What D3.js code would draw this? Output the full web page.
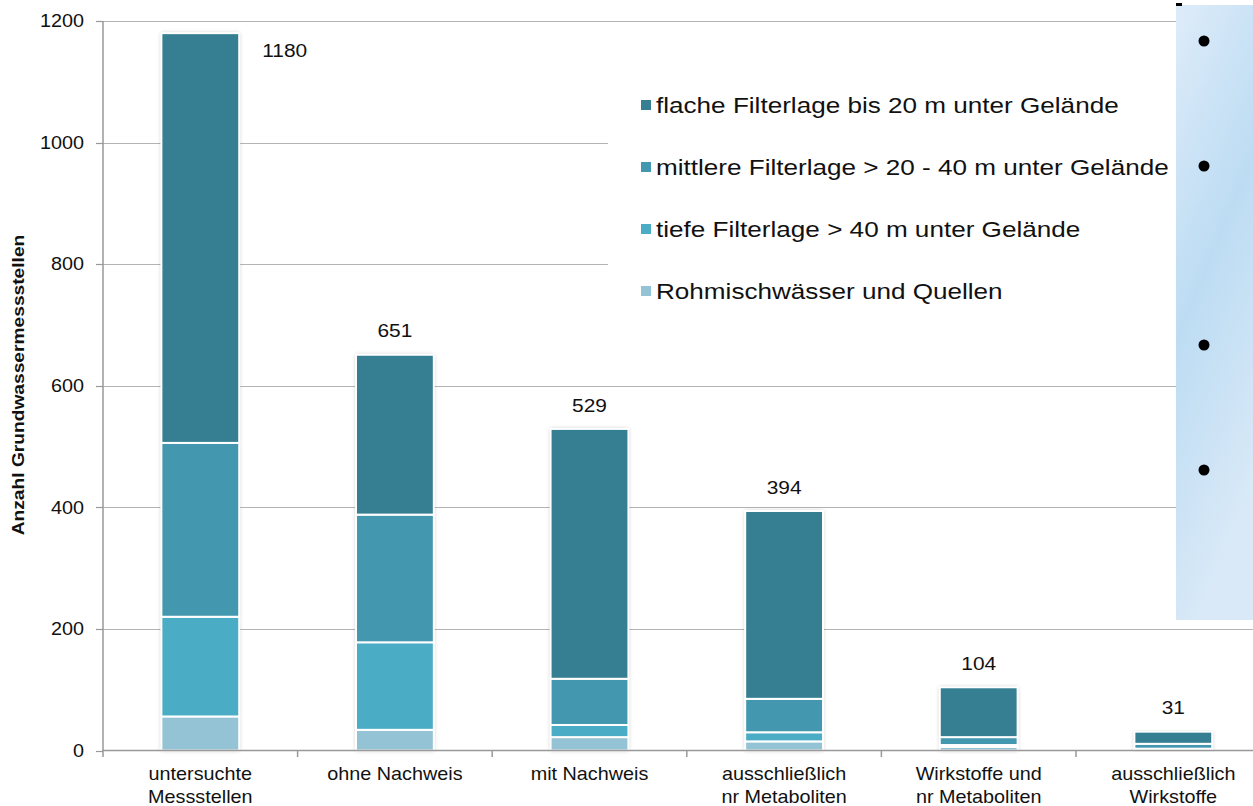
<!DOCTYPE html>
<html>
<head>
<meta charset="utf-8">
<script src="https://cdn.jsdelivr.net/npm/d3@7"></script>
<style>
  body { margin: 0; background: #fff; }
  svg { display: block; font-family: "Liberation Sans", Arial, sans-serif; }
</style>
</head>
<body>
<div id="chart"></div>
<script>
// categories (x labels, two lines each)
var categories = [
  ["untersuchte", "Messstellen"],
  ["ohne Nachweis"],
  ["mit Nachweis"],
  ["ausschließlich", "nr Metaboliten"],
  ["Wirkstoffe und", "nr Metaboliten"],
  ["ausschließlich", "Wirkstoffe"]
]
var seriesNames = [
  "Rohmischwässer und Quellen",
  "tiefe Filterlage > 40 m unter Gelände",
  "mittlere Filterlage > 20 - 40 m unter Gelände",
  "flache Filterlage bis 20 m unter Gelände"
]
// values, one array per series
var rohm     = [56, 34, 22, 15, 6, 1]
var tiefe    = [164, 144, 20, 15, 3, 2]
var mittlere = [286, 210, 76, 55, 13, 8]
var flach    = [674, 263, 411, 309, 82, 20]
var totals   = [1180, 651, 529, 394, 104, 31]
var yTicks   = [0, 200, 400, 600, 800, 1000, 1200]

var colors = ["#93c3d4", "#4bacc6", "#4397ae", "#367f93"]

var width = 1253, height = 806
var x0 = 103, bandW = 194.6
var stretch = 1.1   // the original text is a bit wider than the font

var svg = d3.select("#chart").append("svg")
  .attr("width", width).attr("height", height)

var defs = svg.append("defs")
var glow = defs.append("filter").attr("id", "glow")
  .attr("x", "-20%").attr("y", "-5%").attr("width", "140%").attr("height", "110%")
glow.append("feGaussianBlur").attr("in", "SourceAlpha").attr("stdDeviation", 2.2).attr("result", "b")
glow.append("feFlood").attr("flood-color", "#000").attr("flood-opacity", 0.25)
glow.append("feComposite").attr("in2", "b").attr("operator", "in").attr("result", "s")
var mg = glow.append("feMerge")
mg.append("feMergeNode").attr("in", "s")
mg.append("feMergeNode").attr("in", "SourceGraphic")

var grad = defs.append("linearGradient").attr("id", "panel")
  .attr("x1", "0").attr("y1", "0").attr("x2", "0.3").attr("y2", "1")
grad.append("stop").attr("offset", "0%").attr("stop-color", "#deecf9")
grad.append("stop").attr("offset", "50%").attr("stop-color", "#bddcf3")
grad.append("stop").attr("offset", "100%").attr("stop-color", "#d9e9f7")

var x = d3.scaleBand()
  .domain(d3.range(categories.length))
  .range([x0, x0 + bandW * categories.length])
  .paddingInner(0.6).paddingOuter(0.3)

var y = d3.scaleLinear().domain([0, 1200]).range([750.5, 21])

function place(px, py, s) {
  return "translate(" + px + "," + py + ") scale(" + (s || stretch) + ",1)"
}

// gridlines
svg.append("g").selectAll("line")
  .data(yTicks.slice(1))
  .enter().append("line")
  .attr("x1", x0).attr("x2", width)
  .attr("y1", function(d){ return Math.round(y(d)) + 0.5 })
  .attr("y2", function(d){ return Math.round(y(d)) + 0.5 })
  .attr("stroke", "#b3b3b3").attr("stroke-width", 1.2)

// stacked data
var table = categories.map(function(c, i) {
  return { i: i, rohm: rohm[i], tiefe: tiefe[i], mittlere: mittlere[i], flach: flach[i] }
})
var keys = ["rohm", "tiefe", "mittlere", "flach"]
var stacked = d3.stack().keys(keys)(table)

// bar glow backing
svg.append("g").selectAll("rect")
  .data(table)
  .enter().append("rect")
  .attr("x", function(d){ return x(d.i) })
  .attr("width", x.bandwidth())
  .attr("y", function(d, i){ return y(totals[i]) })
  .attr("height", function(d, i){ return y(0) - y(totals[i]) })
  .attr("fill", "#fff")
  .attr("filter", "url(#glow)")

svg.append("g").selectAll("g")
  .data(stacked)
  .enter().append("g")
    .attr("fill", function(d, i){ return colors[i] })
  .selectAll("rect")
  .data(function(d){ return d })
  .enter().append("rect")
    .attr("x", function(d){ return x(d.data.i) })
    .attr("width", x.bandwidth())
    .attr("y", function(d){ return y(d[1]) })
    .attr("height", function(d){ return Math.max(0, y(d[0]) - y(d[1])) })
    .attr("stroke", "#fff")
    .attr("stroke-width", 2)

// legend background (covers gridlines)
svg.append("rect")
  .attr("x", 608).attr("y", 72).attr("width", 570).attr("height", 250)
  .attr("fill", "#fff")

var legendOrder = [3, 2, 1, 0]
var leg = svg.append("g").selectAll("g")
  .data(legendOrder)
  .enter().append("g")
  .attr("transform", function(d, i){ return "translate(641," + (105 + i * 62) + ")" })
leg.append("rect")
  .attr("x", 0).attr("y", -5).attr("width", 10).attr("height", 10)
  .attr("fill", function(d){ return colors[d] })
leg.append("text")
  .attr("transform", place(15, 0, 1.16))
  .attr("dy", "0.35em")
  .attr("font-size", 22.5).attr("fill", "#111")
  .text(function(d){ return seriesNames[d] })

// value labels
svg.append("g").selectAll("text")
  .data(totals)
  .enter().append("text")
  .attr("transform", function(d, i){
    return i === 0 ? place(x(i) + x.bandwidth() + 23, 50) : place(x(i) + x.bandwidth() / 2, y(d) - 24)
  })
  .attr("dy", "0.35em")
  .attr("text-anchor", function(d, i){ return i === 0 ? "start" : "middle" })
  .attr("font-size", 19).attr("fill", "#111")
  .text(function(d){ return d })

// x axis
var xa = svg.append("g")
xa.append("line").attr("x1", x0).attr("x2", width)
  .attr("y1", 750.5).attr("y2", 750.5).attr("stroke", "#999").attr("stroke-width", 1.5)
xa.selectAll("line.tick")
  .data(d3.range(categories.length + 1))
  .enter().append("line").attr("class", "tick")
  .attr("x1", function(d){ return x0 + d * bandW }).attr("x2", function(d){ return x0 + d * bandW })
  .attr("y1", 750).attr("y2", 757).attr("stroke", "#999").attr("stroke-width", 1.5)
var xl = xa.selectAll("text")
  .data(categories)
  .enter().append("text")
  .attr("transform", function(d, i){ return place(x(i) + x.bandwidth() / 2, 780) })
  .attr("text-anchor", "middle")
  .attr("font-size", 18).attr("fill", "#111")
xl.selectAll("tspan")
  .data(function(d){ return d })
  .enter().append("tspan")
  .attr("x", 0)
  .attr("dy", function(d, i){ return i === 0 ? 0 : 23 })
  .text(function(d){ return d })

// y axis
var ya = svg.append("g")
ya.append("line").attr("x1", x0).attr("x2", x0)
  .attr("y1", 21).attr("y2", 751).attr("stroke", "#999").attr("stroke-width", 1.5)
ya.selectAll("line.tick")
  .data(yTicks)
  .enter().append("line").attr("class", "tick")
  .attr("x1", 96).attr("x2", x0)
  .attr("y1", function(d){ return Math.round(y(d)) + 0.5 })
  .attr("y2", function(d){ return Math.round(y(d)) + 0.5 })
  .attr("stroke", "#999").attr("stroke-width", 1.2)
ya.selectAll("text")
  .data(yTicks)
  .enter().append("text")
  .attr("transform", function(d){ return place(84, y(d)) })
  .attr("dy", "0.35em").attr("text-anchor", "end")
  .attr("font-size", 18).attr("fill", "#111")
  .text(function(d){ return d })

svg.append("text")
  .attr("transform", "translate(24,385) rotate(-90) scale(1.2,1)")
  .attr("text-anchor", "middle")
  .attr("font-family", "'Liberation Sans Narrow', 'Arial Narrow', sans-serif")
  .attr("font-weight", "bold").attr("font-size", 16).attr("fill", "#111")
  .text("Anzahl Grundwassermessstellen")

// side panel with bullets
svg.append("rect")
  .attr("x", 1176).attr("y", 5).attr("width", 77).attr("height", 615)
  .attr("fill", "url(#panel)")
svg.append("rect")
  .attr("x", 1176).attr("y", 3).attr("width", 6).attr("height", 3).attr("fill", "#000")
svg.append("g").selectAll("circle")
  .data([41, 166, 345, 470])
  .enter().append("circle")
  .attr("cx", 1204).attr("cy", function(d){ return d }).attr("r", 5.5).attr("fill", "#000")
</script>
</body>
</html>
